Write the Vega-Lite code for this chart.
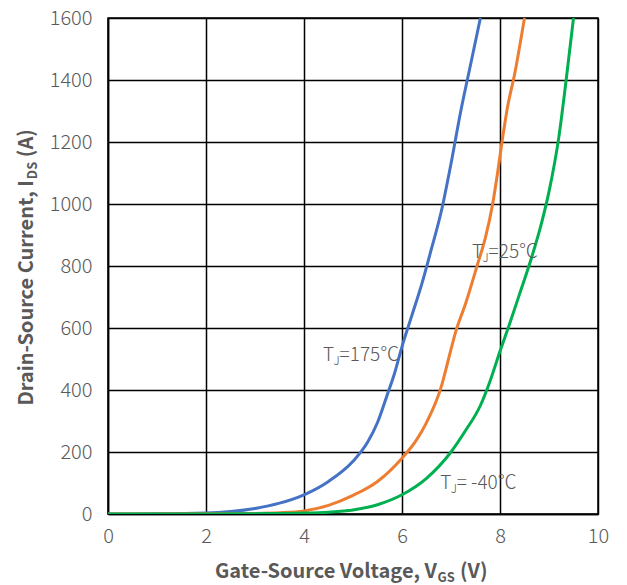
{
  "$schema": "https://vega.github.io/schema/vega-lite/v6.json",
  "width": 490,
  "height": 496,
  "autosize": "none",
  "padding": {"left": 108, "top": 18, "right": 29, "bottom": 71},
  "background": "white",
  "data": {"values": [{}]},
  "config": {
    "font": "Noto Sans CJK SC",
    "view": {"stroke": "#000000", "strokeWidth": 1.5},
    "text": {"color": "#595959", "font": "Noto Sans CJK SC"}
  },
  "datasets": {
    "transfer": [
      {"tj": "175", "vgs": 0, "ids": 0},
      {"tj": "175", "vgs": 1, "ids": 0.5},
      {"tj": "175", "vgs": 2, "ids": 3},
      {"tj": "175", "vgs": 2.5, "ids": 8},
      {"tj": "175", "vgs": 3, "ids": 18},
      {"tj": "175", "vgs": 3.5, "ids": 35},
      {"tj": "175", "vgs": 4, "ids": 62},
      {"tj": "175", "vgs": 4.5, "ids": 105},
      {"tj": "175", "vgs": 5, "ids": 170},
      {"tj": "175", "vgs": 5.3, "ids": 232},
      {"tj": "175", "vgs": 5.5, "ids": 295},
      {"tj": "175", "vgs": 5.7, "ids": 385},
      {"tj": "175", "vgs": 5.85, "ids": 455},
      {"tj": "175", "vgs": 6.0, "ids": 540},
      {"tj": "175", "vgs": 6.2, "ids": 640},
      {"tj": "175", "vgs": 6.4, "ids": 740},
      {"tj": "175", "vgs": 6.6, "ids": 855},
      {"tj": "175", "vgs": 6.8, "ids": 975},
      {"tj": "175", "vgs": 7.0, "ids": 1130},
      {"tj": "175", "vgs": 7.2, "ids": 1300},
      {"tj": "175", "vgs": 7.4, "ids": 1450},
      {"tj": "175", "vgs": 7.6, "ids": 1600},
      {"tj": "25", "vgs": 0, "ids": 0},
      {"tj": "25", "vgs": 2, "ids": 1},
      {"tj": "25", "vgs": 3, "ids": 2},
      {"tj": "25", "vgs": 3.5, "ids": 4},
      {"tj": "25", "vgs": 4, "ids": 10},
      {"tj": "25", "vgs": 4.5, "ids": 28},
      {"tj": "25", "vgs": 5, "ids": 60},
      {"tj": "25", "vgs": 5.5, "ids": 105},
      {"tj": "25", "vgs": 6, "ids": 180},
      {"tj": "25", "vgs": 6.3, "ids": 240},
      {"tj": "25", "vgs": 6.5, "ids": 295},
      {"tj": "25", "vgs": 6.8, "ids": 410},
      {"tj": "25", "vgs": 6.95, "ids": 500},
      {"tj": "25", "vgs": 7.1, "ids": 590},
      {"tj": "25", "vgs": 7.3, "ids": 680},
      {"tj": "25", "vgs": 7.55, "ids": 810},
      {"tj": "25", "vgs": 7.7, "ids": 890},
      {"tj": "25", "vgs": 7.85, "ids": 1000},
      {"tj": "25", "vgs": 7.95, "ids": 1100},
      {"tj": "25", "vgs": 8.05, "ids": 1210},
      {"tj": "25", "vgs": 8.15, "ids": 1310},
      {"tj": "25", "vgs": 8.3, "ids": 1420},
      {"tj": "25", "vgs": 8.5, "ids": 1600},
      {"tj": "-40", "vgs": 0, "ids": 0},
      {"tj": "-40", "vgs": 2, "ids": 0},
      {"tj": "-40", "vgs": 3, "ids": 1},
      {"tj": "-40", "vgs": 4, "ids": 3},
      {"tj": "-40", "vgs": 4.5, "ids": 6},
      {"tj": "-40", "vgs": 5, "ids": 13},
      {"tj": "-40", "vgs": 5.5, "ids": 30},
      {"tj": "-40", "vgs": 6, "ids": 62},
      {"tj": "-40", "vgs": 6.5, "ids": 115},
      {"tj": "-40", "vgs": 7, "ids": 200},
      {"tj": "-40", "vgs": 7.3, "ids": 270},
      {"tj": "-40", "vgs": 7.6, "ids": 350},
      {"tj": "-40", "vgs": 7.8, "ids": 430},
      {"tj": "-40", "vgs": 8.0, "ids": 525},
      {"tj": "-40", "vgs": 8.2, "ids": 615},
      {"tj": "-40", "vgs": 8.4, "ids": 710},
      {"tj": "-40", "vgs": 8.65, "ids": 830},
      {"tj": "-40", "vgs": 8.85, "ids": 940},
      {"tj": "-40", "vgs": 9.0, "ids": 1040},
      {"tj": "-40", "vgs": 9.2, "ids": 1215},
      {"tj": "-40", "vgs": 9.35, "ids": 1400},
      {"tj": "-40", "vgs": 9.5, "ids": 1600}
    ]
  },
  "layer": [
    {
      "data": {"name": "transfer"},
      "mark": {"type": "line", "strokeWidth": 3, "interpolate": "monotone", "clip": true},
      "encoding": {
        "x": {
          "field": "vgs", "type": "quantitative",
          "scale": {"domain": [0, 10], "nice": false, "zero": false},
          "axis": {
            "values": [0, 2, 4, 6, 8, 10], "title": null, "format": "d",
            "grid": true, "gridColor": "#000000", "gridWidth": 1.5, "gridOpacity": 1,
            "domainColor": "#000000", "domainWidth": 1.5, "ticks": false,
            "labelColor": "#595959", "labelFontSize": 20, "labelFontWeight": 300, "labelPadding": 12,
            "labelFont": "Noto Sans CJK SC", "labelFlush": false
          }
        },
        "y": {
          "field": "ids", "type": "quantitative",
          "scale": {"domain": [0, 1600], "nice": false},
          "axis": {
            "values": [0, 200, 400, 600, 800, 1000, 1200, 1400, 1600], "title": null, "format": "d",
            "grid": true, "gridColor": "#000000", "gridWidth": 1.5, "gridOpacity": 1,
            "domainColor": "#000000", "domainWidth": 1.5, "ticks": false,
            "labelColor": "#595959", "labelFontSize": 20, "labelFontWeight": 300, "labelPadding": 16,
            "labelFont": "Noto Sans CJK SC", "labelFlush": false
          }
        },
        "color": {
          "field": "tj", "type": "nominal",
          "scale": {"domain": ["175", "25", "-40"], "range": ["#4472C4", "#ED7D31", "#00B050"]},
          "legend": null
        }
      }
    },
    {"mark": {"type": "text", "align": "left", "baseline": "alphabetic", "fontSize": 19, "fontWeight": 300},
     "encoding": {"x": {"datum": 4.39, "type": "quantitative"}, "y": {"datum": 494, "type": "quantitative"}, "text": {"value": "T"}}},
    {"mark": {"type": "text", "align": "left", "baseline": "alphabetic", "fontSize": 12, "fontWeight": 300, "dx": 10.5, "dy": 4},
     "encoding": {"x": {"datum": 4.39, "type": "quantitative"}, "y": {"datum": 494, "type": "quantitative"}, "text": {"value": "J"}}},
    {"mark": {"type": "text", "align": "left", "baseline": "alphabetic", "fontSize": 19, "fontWeight": 300, "dx": 16.5},
     "encoding": {"x": {"datum": 4.39, "type": "quantitative"}, "y": {"datum": 494, "type": "quantitative"}, "text": {"value": "=175℃"}}},
    {"mark": {"type": "text", "align": "left", "baseline": "alphabetic", "fontSize": 19, "fontWeight": 300},
     "encoding": {"x": {"datum": 7.43, "type": "quantitative"}, "y": {"datum": 826, "type": "quantitative"}, "text": {"value": "T"}}},
    {"mark": {"type": "text", "align": "left", "baseline": "alphabetic", "fontSize": 12, "fontWeight": 300, "dx": 10.5, "dy": 4},
     "encoding": {"x": {"datum": 7.43, "type": "quantitative"}, "y": {"datum": 826, "type": "quantitative"}, "text": {"value": "J"}}},
    {"mark": {"type": "text", "align": "left", "baseline": "alphabetic", "fontSize": 19, "fontWeight": 300, "dx": 16.5},
     "encoding": {"x": {"datum": 7.43, "type": "quantitative"}, "y": {"datum": 826, "type": "quantitative"}, "text": {"value": "=25℃"}}},
    {"mark": {"type": "text", "align": "left", "baseline": "alphabetic", "fontSize": 19, "fontWeight": 300},
     "encoding": {"x": {"datum": 6.78, "type": "quantitative"}, "y": {"datum": 81, "type": "quantitative"}, "text": {"value": "T"}}},
    {"mark": {"type": "text", "align": "left", "baseline": "alphabetic", "fontSize": 12, "fontWeight": 300, "dx": 10.5, "dy": 4},
     "encoding": {"x": {"datum": 6.78, "type": "quantitative"}, "y": {"datum": 81, "type": "quantitative"}, "text": {"value": "J"}}},
    {"mark": {"type": "text", "align": "left", "baseline": "alphabetic", "fontSize": 19, "fontWeight": 300, "dx": 16.5},
     "encoding": {"x": {"datum": 6.78, "type": "quantitative"}, "y": {"datum": 81, "type": "quantitative"}, "text": {"value": "= -40℃"}}},
    {"mark": {"type": "text", "align": "right", "baseline": "alphabetic", "fontSize": 20, "fontWeight": "bold", "clip": false},
     "encoding": {"x": {"datum": 6.714, "type": "quantitative"}, "y": {"datum": -206, "type": "quantitative"}, "text": {"value": "Gate-Source Voltage, V"}}},
    {"mark": {"type": "text", "align": "left", "baseline": "alphabetic", "fontSize": 13, "fontWeight": "bold", "dx": 0.5, "dy": 4, "clip": false},
     "encoding": {"x": {"datum": 6.714, "type": "quantitative"}, "y": {"datum": -206, "type": "quantitative"}, "text": {"value": "GS"}}},
    {"mark": {"type": "text", "align": "left", "baseline": "alphabetic", "fontSize": 20, "fontWeight": "bold", "dx": 23, "clip": false},
     "encoding": {"x": {"datum": 6.714, "type": "quantitative"}, "y": {"datum": -206, "type": "quantitative"}, "text": {"value": "(V)"}}},
    {"mark": {"type": "text", "align": "right", "baseline": "alphabetic", "fontSize": 20, "fontWeight": "bold", "angle": 270, "clip": false},
     "encoding": {"x": {"datum": -1.53, "type": "quantitative"}, "y": {"datum": 1077, "type": "quantitative"}, "text": {"value": "Drain-Source Current, I"}}},
    {"mark": {"type": "text", "align": "left", "baseline": "alphabetic", "fontSize": 13, "fontWeight": "bold", "angle": 270, "dx": 1, "dy": 4, "clip": false},
     "encoding": {"x": {"datum": -1.53, "type": "quantitative"}, "y": {"datum": 1077, "type": "quantitative"}, "text": {"value": "DS"}}},
    {"mark": {"type": "text", "align": "left", "baseline": "alphabetic", "fontSize": 20, "fontWeight": "bold", "angle": 270, "dx": 23, "clip": false},
     "encoding": {"x": {"datum": -1.53, "type": "quantitative"}, "y": {"datum": 1077, "type": "quantitative"}, "text": {"value": "(A)"}}}
  ]
}
